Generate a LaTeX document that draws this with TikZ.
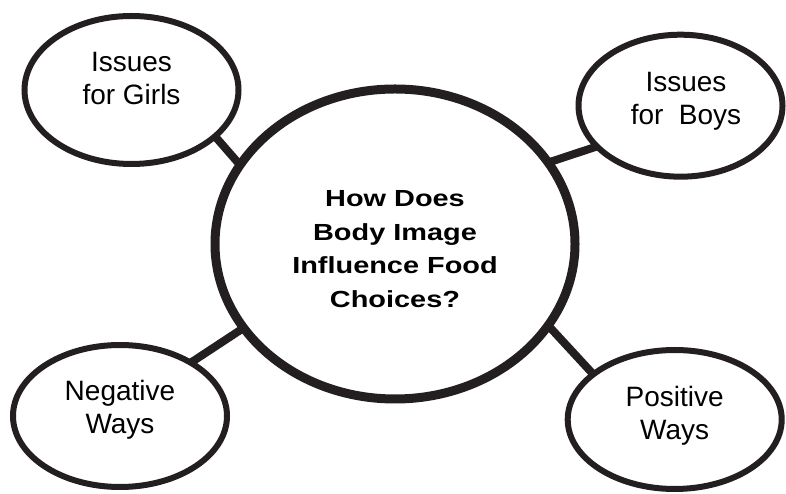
\documentclass[tikz,border=0pt]{standalone}
\usepackage{fontspec}
\setmainfont{Liberation Sans}
\newfontfamily\hubfont[FakeStretch=1.24]{Liberation Sans}
\usetikzlibrary{shapes.geometric}
\definecolor{ink}{RGB}{35,31,32}

\begin{document}
\begin{tikzpicture}[x=1pt, y=1pt,
  hub/.style = {shape=ellipse, draw=ink, line width=9pt,
    inner sep=0pt, outer sep=0pt,
    minimum width=360pt, minimum height=310pt},
  bubble/.style = {shape=ellipse, draw=ink, line width=6pt,
    inner sep=0pt, outer sep=0pt,
    minimum width=214pt, minimum height=142pt},
  hubtext/.style = {align=center, inner sep=0pt,
    font=\hubfont\bfseries\fontsize{23.3}{33.7}\selectfont},
  bubbletext/.style = {align=center, inner sep=0pt,
    font=\fontsize{28}{33}\selectfont},
  link/.style = {draw=ink, line width=8pt}]

  \useasboundingbox (0,0) rectangle (786,494);

  \node[hub] (hub) at (395,250) {};
  \node[hubtext] (question) at ([yshift=-5pt]hub.center)
    {How Does\\Body Image\\Influence Food\\Choices?};

  \node[bubble, minimum height=148pt] (girls) at (131.5,404) {};
  \node[bubbletext] (girlstext) at ([yshift=11pt]girls.center)
    {Issues\\for Girls};

  \node[bubble, minimum width=204pt] (boys) at (680.5,388.3) {};
  \node[bubbletext] (boystext) at ([xshift=5.5pt, yshift=4.7pt]boys.center)
    {Issues\\for\ \ Boys};

  \node[bubble] (negative) at (120,78) {};
  \node[bubbletext] (negativetext) at ([yshift=6.3pt]negative.center)
    {Negative\\Ways};

  \node[bubble, minimum height=139pt] (positive) at (674.7,74.5) {};
  \node[bubbletext] (positivetext) at ([yshift=3.8pt]positive.center)
    {Positive\\Ways};

  \draw[link] (girls.-29) -- (hub.153);
  \draw[link] (hub.28) -- (boys.-154.5);
  \draw[link] (hub.-151) -- (negative.37);
  \draw[link] (hub.-28) -- (positive.151);
\end{tikzpicture}
\end{document}
